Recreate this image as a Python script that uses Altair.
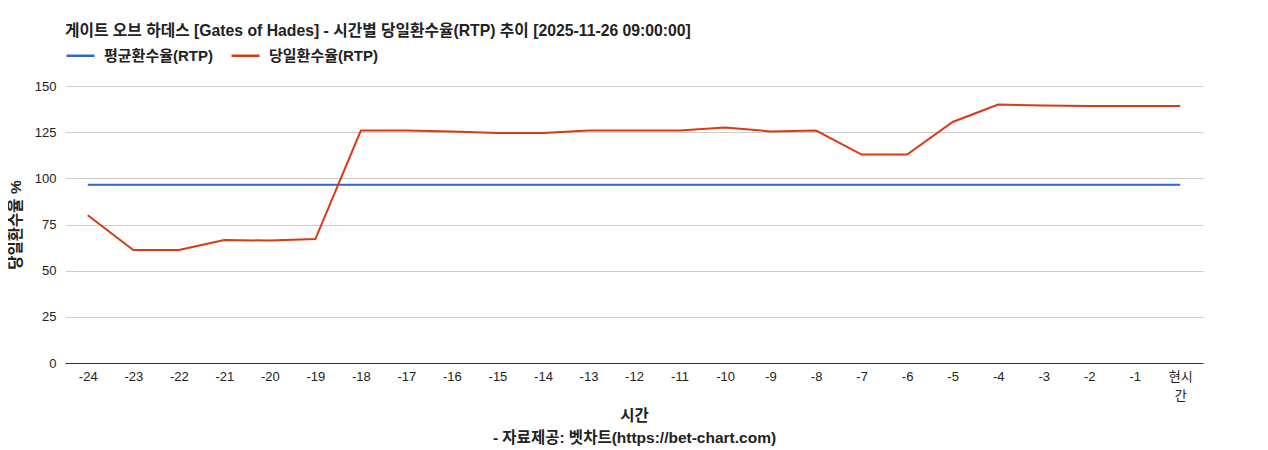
import altair as alt
import pandas as pd

categories = ["-24", "-23", "-22", "-21", "-20", "-19", "-18", "-17", "-16", "-15",
              "-14", "-13", "-12", "-11", "-10", "-9", "-8", "-7", "-6", "-5",
              "-4", "-3", "-2", "-1", "현시간"]
avg_rtp = [96.5] * 25
daily_rtp = [80.0, 61.2, 61.2, 66.6, 66.3, 67.1, 125.9, 125.9, 125.4, 124.5,
             124.5, 125.9, 125.9, 125.9, 127.5, 125.4, 125.9, 112.9, 112.9, 130.5,
             140.0, 139.4, 139.2, 139.2, 139.2]
series_names = ["평균환수율(RTP)", "당일환수율(RTP)"]
series_colors = ["#3366cc", "#dc3912"]
y_ticks = [0, 25, 50, 75, 100, 125, 150]

rows = []
for c, v in zip(categories, avg_rtp):
    rows.append({"시간": c, "series": series_names[0], "value": v})
for c, v in zip(categories, daily_rtp):
    rows.append({"시간": c, "series": series_names[1], "value": v})
df = pd.DataFrame(rows)

FONT = "Liberation Sans, Noto Sans CJK KR"

chart = alt.Chart(df).mark_line(strokeWidth=2).encode(
    x=alt.X("시간:N", sort=categories,
            scale=alt.Scale(type="point", padding=0.5),
            axis=alt.Axis(title=["시간", "- 자료제공: 벳차트(https://bet-chart.com)"],
                          labelAngle=0, ticks=False, grid=False,
                          domain=True, domainColor="#333333",
                          labelExpr="datum.label == '현시간' ? ['현시', '간'] : datum.label",
                          labelPadding=7, labelLineHeight=19, titlePadding=6,
                          titleLineHeight=22,
                          labelFontSize=13, titleFontSize=15.5,
                          titleFontWeight="bold", labelColor="#222222",
                          titleColor="#222222", labelFont=FONT, titleFont=FONT)),
    y=alt.Y("value:Q", scale=alt.Scale(domain=[0, 150], nice=False),
            axis=alt.Axis(title="당일환수율 %", values=y_ticks, ticks=False,
                          domain=False, gridColor="#cccccc",
                          labelPadding=9, titlePadding=11,
                          labelFontSize=13, titleFontSize=15.5,
                          titleFontWeight="bold", labelColor="#222222",
                          titleColor="#222222", labelFont=FONT, titleFont=FONT)),
    color=alt.Color("series:N", sort=series_names,
                    scale=alt.Scale(domain=series_names, range=series_colors),
                    legend=alt.Legend(title=None, orient="none", direction="horizontal",
                                      legendX=0, legendY=-46,
                                      symbolType="stroke", symbolStrokeWidth=2.5,
                                      symbolSize=784, labelFontSize=15,
                                      labelOffset=8,
                                      labelFontWeight="bold", labelFont=FONT,
                                      labelColor="#222222", columnPadding=13)),
).properties(
    width=1138,
    height=277,
    padding={"left": 0, "top": 15, "right": 5, "bottom": 0},
    title=alt.TitleParams(
        "게이트 오브 하데스 [Gates of Hades] - 시간별 당일환수율(RTP) 추이 [2025-11-26 09:00:00]",
        anchor="start", frame="group", fontSize=15.75, fontWeight="bold", font=FONT,
        color="#222222", offset=0),
).configure_view(stroke=None)

chart.save("out.html", embed_options={"renderer": "svg", "actions": False})
